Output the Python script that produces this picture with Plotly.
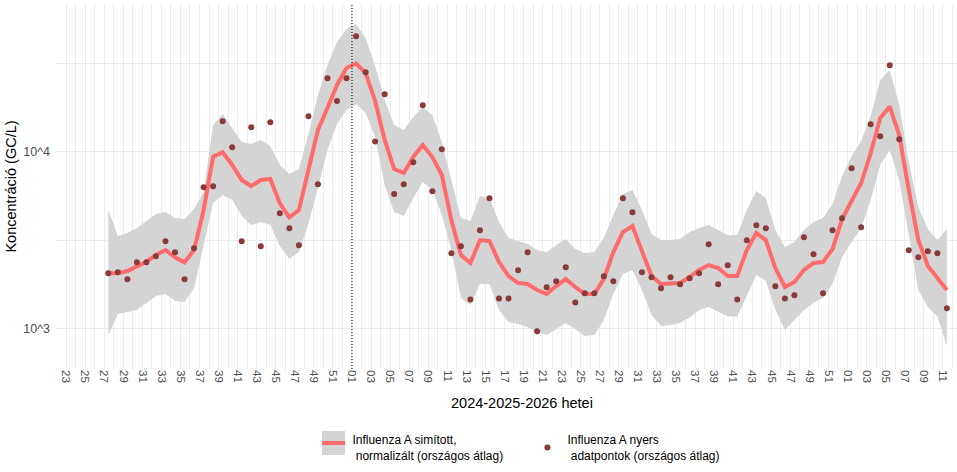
import datetime as dt
import plotly.graph_objects as go

# ---- data (ISO weeks, 2024-W27 .. 2026-W11) ----
week_years = [2024] * 26 + [2025] * 52 + [2026] * 11
week_numbers = list(range(27, 53)) + list(range(1, 53)) + list(range(1, 12))

raw_values = [
    2048, 2075, 1894, 2364, 2364, 2557, 3109, 2694, 1894, 2838, 6285, 6369, 14866,
    10590, 3109, 13745, 2912, 14675, 4479, 3684, 2951, 15867, 6537, 26035, 19373, 26035,
    45030, 28155, 11424, 21135, 5760, 6537, 8710, 18310, 5966, 10318,
    2659, 2912, 1459, 3588, 5447, 1478, 1478, 2130, 2694, 962,
    1707, 1845, 2215, 1403, 1579, 1579, 1970, 1845, 5447, 4538,
    2075, 1944, 1685, 1944, 1775, 1919, 2048, 2990, 1775, 2273,
    1459, 3150, 3830, 3684, 1729, 1478, 1538, 3276, 2624, 1579,
    3588, 4197,
    8054, 3731, 14298, 12225, 30850, 11755, 2765, 2523, 2729, 2659, 1298,
]

smooth_values = [
    2048, 2048, 2111, 2233, 2383, 2601, 2776, 2523, 2364, 2776, 4675, 9370, 9922,
    8409, 6917, 6394, 6917, 7006, 5102, 4251, 4675, 7878, 13270, 17680, 23860, 29790,
    31580, 27900, 19370, 11650, 7980, 7575, 9333, 10910, 9333, 7380,
    4104, 2601, 2343, 3162, 3121, 2373, 1978, 1805, 1782, 1648,
    1564, 1736, 1902, 1714, 1564, 1564, 1902, 2704, 3510, 3795,
    2776, 1978, 1782, 1805, 1805, 1952, 2138, 2282, 2195, 1978,
    1978, 2776, 3465, 3162, 2195, 1714, 1829, 2138, 2343, 2373,
    2812, 4158,
    5326, 6650, 9800, 15500, 18000, 12430, 6067, 3162, 2253, 1927, 1648,
]

band_upper = [
    4676, 3333, 3465, 3698, 4052, 4437, 4555, 4212, 4159, 4738, 5910, 14160, 16350,
    13620, 11350, 11060, 11650, 10770, 8409, 7476, 7980, 12590, 20950, 30970, 41810, 49530,
    52870, 44040, 30570, 19620, 14160, 13270, 15720, 17910, 16140, 11350,
    6917, 4212, 4052, 5613, 5468, 3999, 3246, 3121, 3001, 2776,
    2704, 2962, 3204, 2812, 2669, 2704, 3246, 4381, 5761, 6068,
    4676, 3420, 3162, 3162, 3204, 3509, 3698, 3845, 3601, 3376,
    3376, 4676, 5991, 5468, 3601, 2887, 3081, 3601, 3999, 4212,
    5056, 7285,
    9456, 11500, 15930, 25470, 29010, 18380, 8743, 4862, 3649, 3162, 3649,
]

band_lower = [
    917, 1205, 1237, 1269, 1390, 1524, 1564, 1427, 1409, 1691, 2962, 5123, 5687,
    5326, 4324, 3845, 3999, 3845, 2924, 2468, 2704, 3896, 6228, 10220, 14350, 17220,
    18630, 16560, 12110, 6477, 4555, 4324, 5468, 6738, 6068, 4381,
    2776, 1485, 1355, 1782, 1782, 1269, 1086, 1058, 1017, 953,
    917, 991, 1072, 991, 904, 917, 1114, 1564, 2030, 2138,
    1648, 1190, 1030, 1044, 1072, 1154, 1269, 1320, 1237, 1169,
    1169, 1524, 2004, 1853, 1269, 978, 1114, 1269, 1390, 1485,
    1782, 2533,
    3081, 3698, 5326, 8409, 10220, 6917, 3376, 1648, 1320, 1169, 794,
]

# axis weeks (labels every second week, grid every week)
label_weeks = ([(2024, w) for w in range(23, 53, 2)] + [(2025, w) for w in range(1, 53, 2)]
               + [(2026, w) for w in range(1, 12, 2)])
grid_weeks = ([(2024, w) for w in range(22, 53)] + [(2025, w) for w in range(1, 53)]
              + [(2026, w) for w in range(1, 13)])
marker_week = (2025, 1)

y_tick_vals = [1000, 10000]
y_tick_text = ["10^3", "10^4"]
y_minor_vals = [3162.28, 31622.8]

series_line_name = "Influenza A simított,<br> normalizált (országos átlag)"
series_point_name = "Influenza A nyers<br> adatpontok (országos átlag)"
x_title = "2024-2025-2026 hetei"
y_title = "Koncentráció (GC/L)"

# ---- derived x positions ----
x_data = [dt.date.fromisocalendar(y, w, 4) for y, w in zip(week_years, week_numbers)]
x_ticks = [dt.date.fromisocalendar(y, w, 1) for y, w in label_weeks]
x_tick_text = [f"{w:02d}" for _, w in label_weeks]
x_grid = [dt.date.fromisocalendar(y, w, 1) for y, w in grid_weeks]
x_marker = dt.date.fromisocalendar(*marker_week, 1)

FONT = "Liberation Sans, Arial, sans-serif"
BAND = "#d4d4d4"
LINE = "#FF6A6A"
POINT = "#8B3A3A"
GRID = "#ebebeb"

fig = go.Figure()
fig.add_trace(go.Scatter(x=x_data, y=band_lower, mode="lines", line=dict(width=0),
                         showlegend=False, hoverinfo="skip"))
fig.add_trace(go.Scatter(x=x_data, y=band_upper, mode="lines", line=dict(width=0),
                         fill="tonexty", fillcolor=BAND, showlegend=False, hoverinfo="skip"))
fig.add_trace(go.Scatter(x=x_data, y=smooth_values, mode="lines",
                         line=dict(color=LINE, width=4), showlegend=False))
# legend entry for band + smooth line (key drawn ggplot-style below)
fig.add_trace(go.Scatter(x=[None], y=[None], mode="lines", line=dict(width=0, color=LINE),
                         name=series_line_name))
fig.add_trace(go.Scatter(x=x_data, y=raw_values, mode="markers",
                         marker=dict(color=POINT, size=6), name=series_point_name))

fig.add_vline(x=x_marker, line=dict(color="black", width=1, dash="1px,2px"))

# ggplot-style legend key: grey square with red line
fig.add_shape(type="rect", xref="paper", yref="paper", layer="above",
              x0=0.2952, x1=0.3208, y0=-0.1699, y1=-0.2356,
              fillcolor=BAND, line=dict(width=0))
fig.add_shape(type="line", xref="paper", yref="paper", layer="above",
              x0=0.2952, x1=0.3208, y0=-0.2027, y1=-0.2027,
              line=dict(color=LINE, width=4))

fig.add_annotation(text=x_title, xref="paper", yref="paper", x=0.517, y=-0.0945,
                   xanchor="center", yanchor="middle", showarrow=False,
                   font=dict(size=14.5, color="black"))

fig.update_layout(
    width=957, height=472,
    margin=dict(l=56, r=0, t=4, b=103),
    paper_bgcolor="white", plot_bgcolor="white",
    font=dict(family=FONT, size=12, color="black"),
    showlegend=True,
    legend=dict(orientation="h", x=0.2846, xanchor="left", y=-0.1545, yanchor="top",
                bgcolor="rgba(0,0,0,0)", font=dict(size=12, color="black"),
                valign="middle", traceorder="normal", entrywidth=170),
    xaxis=dict(
        type="date",
        range=[dt.datetime(2024, 5, 26, 14), dt.datetime(2026, 3, 19, 10)],
        tickmode="array", tickvals=x_ticks, ticktext=x_tick_text, tickangle=90,
        tickfont=dict(size=11.5, color="#4d4d4d"),
        showgrid=True, gridcolor=GRID, gridwidth=1,
        minor=dict(tickmode="array", tickvals=x_grid, showgrid=True, gridcolor=GRID, gridwidth=1),
        showline=False, zeroline=False, ticks="",
        automargin=False,
    ),
    yaxis=dict(
        type="log", range=[2.770, 4.836],
        tickmode="array", tickvals=y_tick_vals, ticktext=y_tick_text,
        tickfont=dict(size=12.5, color="#4d4d4d"), ticklabelstandoff=5,
        showgrid=True, gridcolor=GRID, gridwidth=1,
        minor=dict(tickmode="array", tickvals=y_minor_vals, showgrid=True, gridcolor=GRID, gridwidth=1),
        showline=False, zeroline=False, ticks="",
        title=dict(text=y_title, font=dict(size=14.5, color="black"), standoff=3),
        automargin=False,
    ),
)

fig.write_html("out.html")
